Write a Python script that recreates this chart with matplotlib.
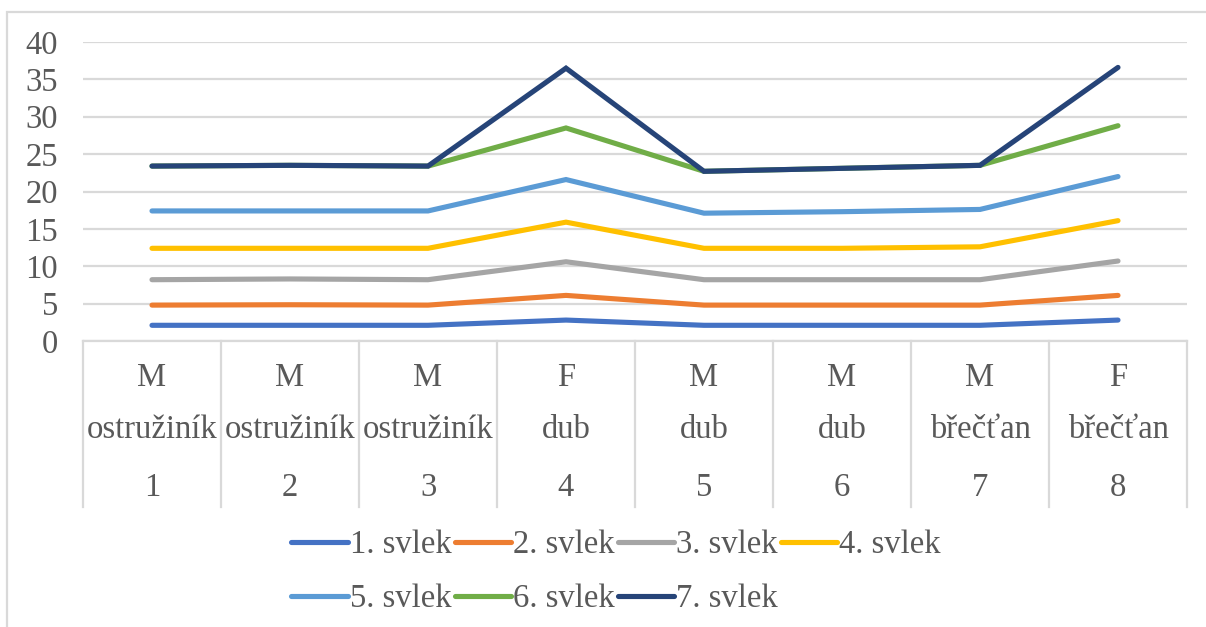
import numpy as np
import matplotlib.pyplot as plt
from matplotlib.patches import Rectangle

plt.rcParams['font.family'] = ['Liberation Serif', 'DejaVu Serif']

sex = ['M', 'M', 'M', 'F', 'M', 'M', 'M', 'F']
plant = ['ostružiník', 'ostružiník', 'ostružiník', 'dub', 'dub', 'dub', 'břečťan', 'břečťan']
ids = ['1', '2', '3', '4', '5', '6', '7', '8']

s1 = [2.1, 2.1, 2.1, 2.8, 2.1, 2.1, 2.1, 2.8]
s2 = [4.8, 4.85, 4.8, 6.1, 4.8, 4.8, 4.8, 6.1]
s3 = [8.2, 8.3, 8.2, 10.6, 8.2, 8.2, 8.2, 10.7]
s4 = [12.4, 12.4, 12.4, 15.9, 12.4, 12.4, 12.6, 16.1]
s5 = [17.4, 17.4, 17.4, 21.6, 17.1, 17.3, 17.6, 22.0]
s6 = [23.4, 23.5, 23.4, 28.5, 22.7, 23.1, 23.5, 28.8]
s7 = [23.4, 23.5, 23.4, 36.5, 22.7, 23.1, 23.5, 36.6]

series = [s1, s2, s3, s4, s5, s6, s7]
names = ['1. svlek', '2. svlek', '3. svlek', '4. svlek', '5. svlek', '6. svlek', '7. svlek']
colors = ['#4472C4', '#ED7D31', '#A5A5A5', '#FFC000', '#5B9BD5', '#70AD47', '#264478']

FS = 23.5
W, H = 1206, 627
fig = plt.figure(figsize=(W / 100, H / 100), dpi=100)
ax = fig.add_axes([83 / W, 1 - 341 / H, (1187 - 83) / W, (341 - 42) / H])

x = np.arange(len(ids)) + 0.5
lines = []
for vals, name, c in zip(series, names, colors):
    ln, = ax.plot(x, vals, color=c, lw=3.7, label=name, solid_capstyle='round', solid_joinstyle='miter')
    lines.append(ln)

ax.set_xlim(0, len(ids))
ax.set_ylim(0, 40)
ax.set_yticks(range(0, 41, 5))
ax.set_xticks([])
ax.grid(axis='y', color='#d9d9d9', lw=1.6)
ax.set_axisbelow(True)
for side in ['top', 'right', 'left']:
    ax.spines[side].set_visible(False)
ax.spines['bottom'].set_color('#d9d9d9')
ax.spines['bottom'].set_linewidth(1.6)
ax.tick_params(axis='y', length=0, pad=18, labelsize=FS, labelcolor='#595959')

# multi-level category table below the axis
tr = ax.get_xaxis_transform()
yb = -(507 - 341) / 299
for b in range(len(ids) + 1):
    ax.plot([b, b], [0, yb], transform=tr, color='#d9d9d9', lw=1.6, clip_on=False)
rows = [(sex, 378), (plant, 430), (ids, 488)]
for labels, ypx in rows:
    for xi, lab in zip(x, labels):
        ax.text(xi, (341 - ypx) / 299, lab, transform=tr, ha='center', va='center',
                fontsize=FS, color='#595959')

# legend filled row by row (matplotlib fills column by column)
order = [0, 4, 1, 5, 2, 6, 3]
leg = fig.legend([lines[i] for i in order], [names[i] for i in order],
                 loc='center', bbox_to_anchor=(616 / W, 1 - 572 / H), ncol=4, frameon=False,
                 fontsize=FS, handlelength=1.72, handletextpad=0.06, columnspacing=0.1,
                 labelspacing=0.72, borderpad=0)
for t in leg.get_texts():
    t.set_color('#595959')

fig.add_artist(Rectangle((7 / W, -0.2), 1.2, 1.2 - 12 / H, transform=fig.transFigure,
                         fill=False, edgecolor='#d9d9d9', lw=1.6))

fig.savefig('out.png', dpi=100)
